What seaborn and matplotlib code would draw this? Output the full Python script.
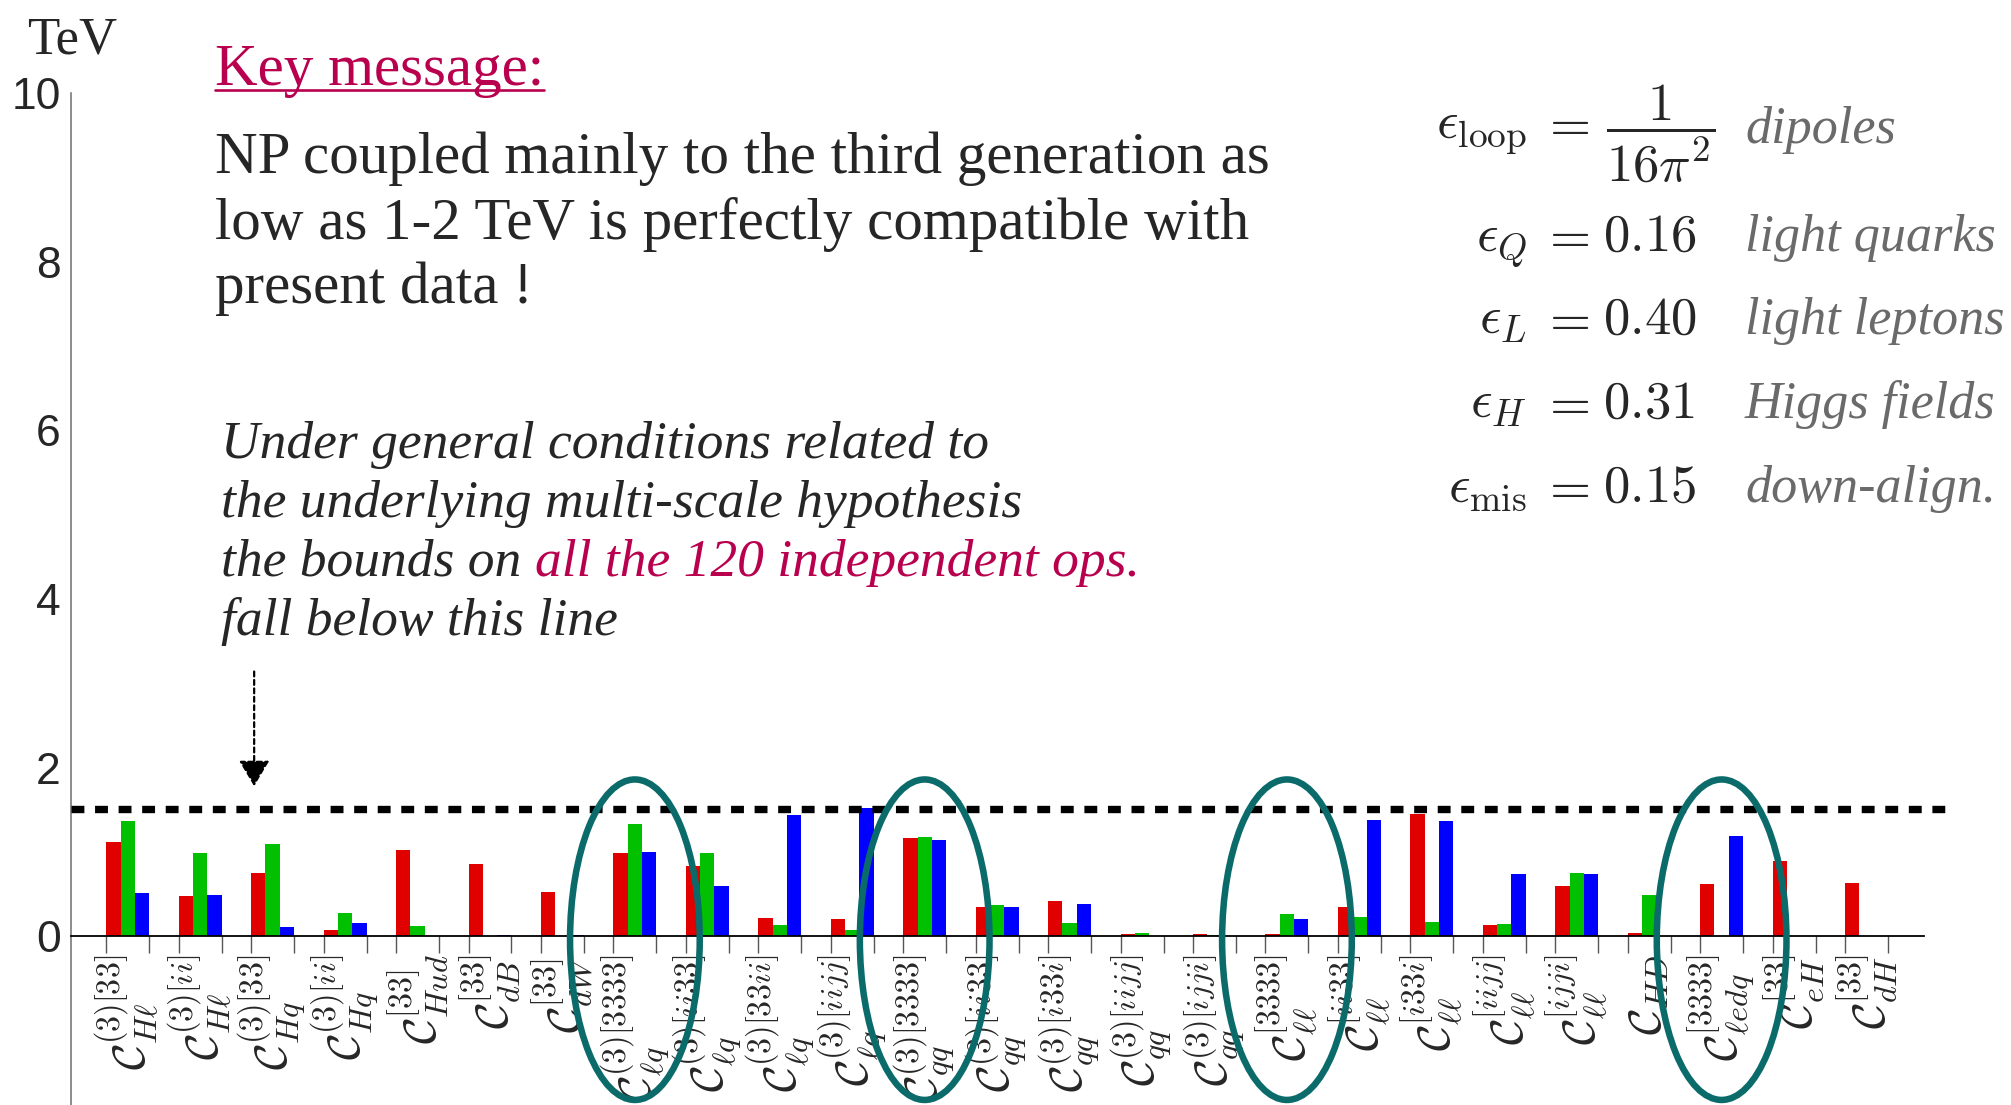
import numpy as np
import pandas as pd
import matplotlib
matplotlib.use("Agg")
import matplotlib.pyplot as plt
import seaborn as sns
from matplotlib.patches import Ellipse
from matplotlib.lines import Line2D

# ---------------------------------------------------------------- data
operators = [
    r"$\mathcal{C}_{H\ell}^{(3)[33]}$",
    r"$\mathcal{C}_{H\ell}^{(3)[ii]}$",
    r"$\mathcal{C}_{Hq}^{(3)[33]}$",
    r"$\mathcal{C}_{Hq}^{(3)[ii]}$",
    r"$\mathcal{C}_{Hud}^{[33]}$",
    r"$\mathcal{C}_{dB}^{[33]}$",
    r"$\mathcal{C}_{dW}^{[33]}$",
    r"$\mathcal{C}_{\ell q}^{(3)[3333]}$",
    r"$\mathcal{C}_{\ell q}^{(3)[ii33]}$",
    r"$\mathcal{C}_{\ell q}^{(3)[33ii]}$",
    r"$\mathcal{C}_{\ell q}^{(3)[iijj]}$",
    r"$\mathcal{C}_{qq}^{(3)[3333]}$",
    r"$\mathcal{C}_{qq}^{(3)[ii33]}$",
    r"$\mathcal{C}_{qq}^{(3)[i33i]}$",
    r"$\mathcal{C}_{qq}^{(3)[iijj]}$",
    r"$\mathcal{C}_{qq}^{(3)[ijji]}$",
    r"$\mathcal{C}_{\ell\ell}^{[3333]}$",
    r"$\mathcal{C}_{\ell\ell}^{[ii33]}$",
    r"$\mathcal{C}_{\ell\ell}^{[i33i]}$",
    r"$\mathcal{C}_{\ell\ell}^{[iijj]}$",
    r"$\mathcal{C}_{\ell\ell}^{[ijji]}$",
    r"$\mathcal{C}_{HD}$",
    r"$\mathcal{C}_{\ell edq}^{[3333]}$",
    r"$\mathcal{C}_{eH}^{[33]}$",
    r"$\mathcal{C}_{dH}^{[33]}$",
]
nan = np.nan
bound_red = [1.12, 0.48, 0.755, 0.08, 1.02, 0.855, 0.53, 0.99, 0.83, 0.22,
             0.20, 1.165, 0.345, 0.42, 0.03, 0.03, 0.03, 0.345, 1.45, 0.13,
             0.60, 0.045, 0.62, 0.89, 0.635]
bound_green = [1.37, 0.99, 1.10, 0.28, 0.12, nan, nan, 1.33, 0.99, 0.13,
               0.07, 1.18, 0.37, 0.16, 0.04, 0.02, 0.265, 0.225, 0.17, 0.145,
               0.755, 0.49, nan, nan, nan]
bound_blue = [0.51, 0.49, 0.11, 0.16, nan, 0.015, 0.015, 1.00, 0.60, 1.44,
              1.52, 1.14, 0.345, 0.385, nan, nan, 0.20, 1.385, 1.37, 0.74,
              0.74, nan, 1.19, nan, nan]
series_names = ["red", "green", "blue"]
series_colors = ["#E00000", "#00C000", "#0000FF"]
common_bound = 1.51          # TeV, dashed line
y_ticks = [0, 2, 4, 6, 8, 10]
circled = [7, 11, 16, 22]    # operators highlighted with an ellipse
arrow_x, arrow_from, arrow_to = 1.745, 3.14, 1.78

eps_lhs = [r"$\epsilon_{\mathrm{loop}}$", r"$\epsilon_{Q}$", r"$\epsilon_{L}$",
           r"$\epsilon_{H}$", r"$\epsilon_{\mathrm{mis}}$"]
eps_val = [r"$\dfrac{1}{16\pi^2}$", r"$0.16$", r"$0.40$", r"$0.31$", r"$0.15$"]
eps_desc = ["dipoles", "light quarks", "light leptons", "Higgs fields",
            "down-align."]

# ---------------------------------------------------------------- style
sns.set_style("white")
plt.rcParams["font.family"] = ["Liberation Serif", "DejaVu Serif"]
plt.rcParams["mathtext.fontset"] = "cm"

W, H = 2011, 1105
fig = plt.figure(figsize=(W / 100, H / 100), dpi=100)
ax_left = 70.5 / W
ax_top = 1 - 93 / H
ax = fig.add_axes([ax_left, 0.0, 1 - ax_left, ax_top])

CRIMSON = "#B8004E"
TEAL = "#0B6B6B"
GREY_TXT = "#6A6A6A"

# ---------------------------------------------------------------- bars
rows = []
for name, vals in zip(series_names, [bound_red, bound_green, bound_blue]):
    for op, v in zip(operators, vals):
        if not np.isnan(v):
            rows.append({"operator": op, "series": name, "TeV": v})
df = pd.DataFrame(rows)

sns.barplot(data=df, x="operator", y="TeV", hue="series", order=operators,
            hue_order=series_names, palette=series_colors, saturation=1,
            width=0.593, dodge=True, errorbar=None, legend=False,
            linewidth=0, ax=ax)

n = len(operators)
x_left = -0.79
ax.set_xlim(x_left, x_left + (W - 70.5) / 72.45)
ax.set_ylim(-2.0, 10.0)
ax.set_xlabel("")
ax.set_ylabel("")

# spines: the bottom spine is the zero line
for s in ["top", "right"]:
    ax.spines[s].set_visible(False)
ax.spines["left"].set_color("#6E6E6E")
ax.spines["left"].set_linewidth(1.1)
ax.spines["left"].set_bounds(-2.0, 10.0)
ax.spines["bottom"].set_visible(True)
ax.spines["bottom"].set_position(("data", 0))
ax.spines["bottom"].set_bounds(x_left, n - 1 + 0.79)
ax.spines["bottom"].set_color("black")
ax.spines["bottom"].set_linewidth(1.3)
ax.spines["bottom"].set_zorder(3)

# dashed common bound
ax.hlines(common_bound, x_left, n - 1 + 1.18, color="black", lw=5.3,
          linestyles=(0, (1.75, 1.45)), zorder=4)

# ticks: labels at group centres, tick marks at group edges
half = 0.593 / 2
ax.set_xticks(range(n))
ax.set_xticklabels(operators, rotation=90, fontsize=33, va="top", ha="center")
ax.set_xticks([i + s * half for i in range(n) for s in (-1, 1)], minor=True)
ax.tick_params(axis="x", which="major", length=0, pad=13, bottom=True)
ax.tick_params(axis="x", which="minor", length=12.2, width=1.0,
               color="#555555", direction="out", bottom=True)
ax.set_yticks(y_ticks)
ax.set_yticklabels([str(t) for t in y_ticks])
ax.tick_params(axis="y", length=0, pad=7, labelsize=32)
for lab in ax.get_yticklabels():
    lab.set_fontfamily(["Liberation Sans", "DejaVu Sans"])

# highlight ellipses
for i in circled:
    ax.add_patch(Ellipse((i, -0.04), width=1.79, height=3.8, fill=False,
                         edgecolor=TEAL, lw=4.7, zorder=6, clip_on=False))

# dotted arrow towards the dashed line
ax.annotate("", xy=(arrow_x, arrow_to), xytext=(arrow_x, arrow_from),
            arrowprops=dict(arrowstyle="-|>,head_length=1.6,head_width=0.95",
                            linestyle=(0, (2.2, 1.6)), lw=1.6, color="black",
                            shrinkA=0, shrinkB=0),
            zorder=5)

# ---------------------------------------------------------------- text
def fx(px):
    return px / W


def fy(py):
    return 1 - py / H


fig.text(fx(27), fy(53), "TeV", fontsize=38, va="baseline", ha="left")

key = fig.text(fx(215), fy(85), "Key message:", fontsize=42.5, color=CRIMSON,
               va="baseline", ha="left")

main_lines = ["NP coupled mainly to the third generation as",
              "low as 1-2 TeV is perfectly compatible with",
              "present data !"]
for txt, yb in zip(main_lines, [173, 238.5, 303]):
    fig.text(fx(215), fy(yb), txt, fontsize=42.5, va="baseline", ha="left")

renderer = fig.canvas.get_renderer()
bb = key.get_window_extent(renderer)
fig.add_artist(Line2D([bb.x0 / W, bb.x1 / W], [fy(90), fy(90)],
                      color=CRIMSON, lw=1.9))

ital = dict(fontsize=38.5, style="italic", va="baseline", ha="left")
fig.text(fx(221), fy(458), "Under general conditions related to", **ital)
fig.text(fx(221), fy(517), "the underlying multi-scale hypothesis", **ital)
part = fig.text(fx(221), fy(576), "the bounds on", **ital)
pb = part.get_window_extent(renderer)
space_px = 0.25 * 38.5 * 100 / 72
fig.text((pb.x1 + space_px) / W, fy(576), "all the 120 independent ops.",
         color=CRIMSON, **ital)
fig.text(fx(221), fy(635), "fall below this line", **ital)

# epsilon parameter block
eps_base = [139, 251, 334, 418, 502]
desc_base = [143, 251, 334, 418, 502]
for k, (lhs, val, desc, yb, yd) in enumerate(zip(eps_lhs, eps_val, eps_desc,
                                                  eps_base, desc_base)):
    fig.text(fx(1527), fy(yb), lhs, fontsize=38.5, ha="right", va="baseline")
    fig.text(fx(1564.5), fy(yb), r"$=$", fontsize=38, ha="center",
             va="baseline")
    if k == 0:
        fig.text(fx(1661), fy(yb), val, fontsize=38, ha="center",
                 va="baseline")
    else:
        fig.text(fx(1603), fy(yb), val, fontsize=38, ha="left",
                 va="baseline")
    fig.text(fx(1745), fy(yd), desc, fontsize=37.5, style="italic",
             color=GREY_TXT, ha="left", va="baseline")

fig.savefig("out.png", dpi=100, facecolor="white")
